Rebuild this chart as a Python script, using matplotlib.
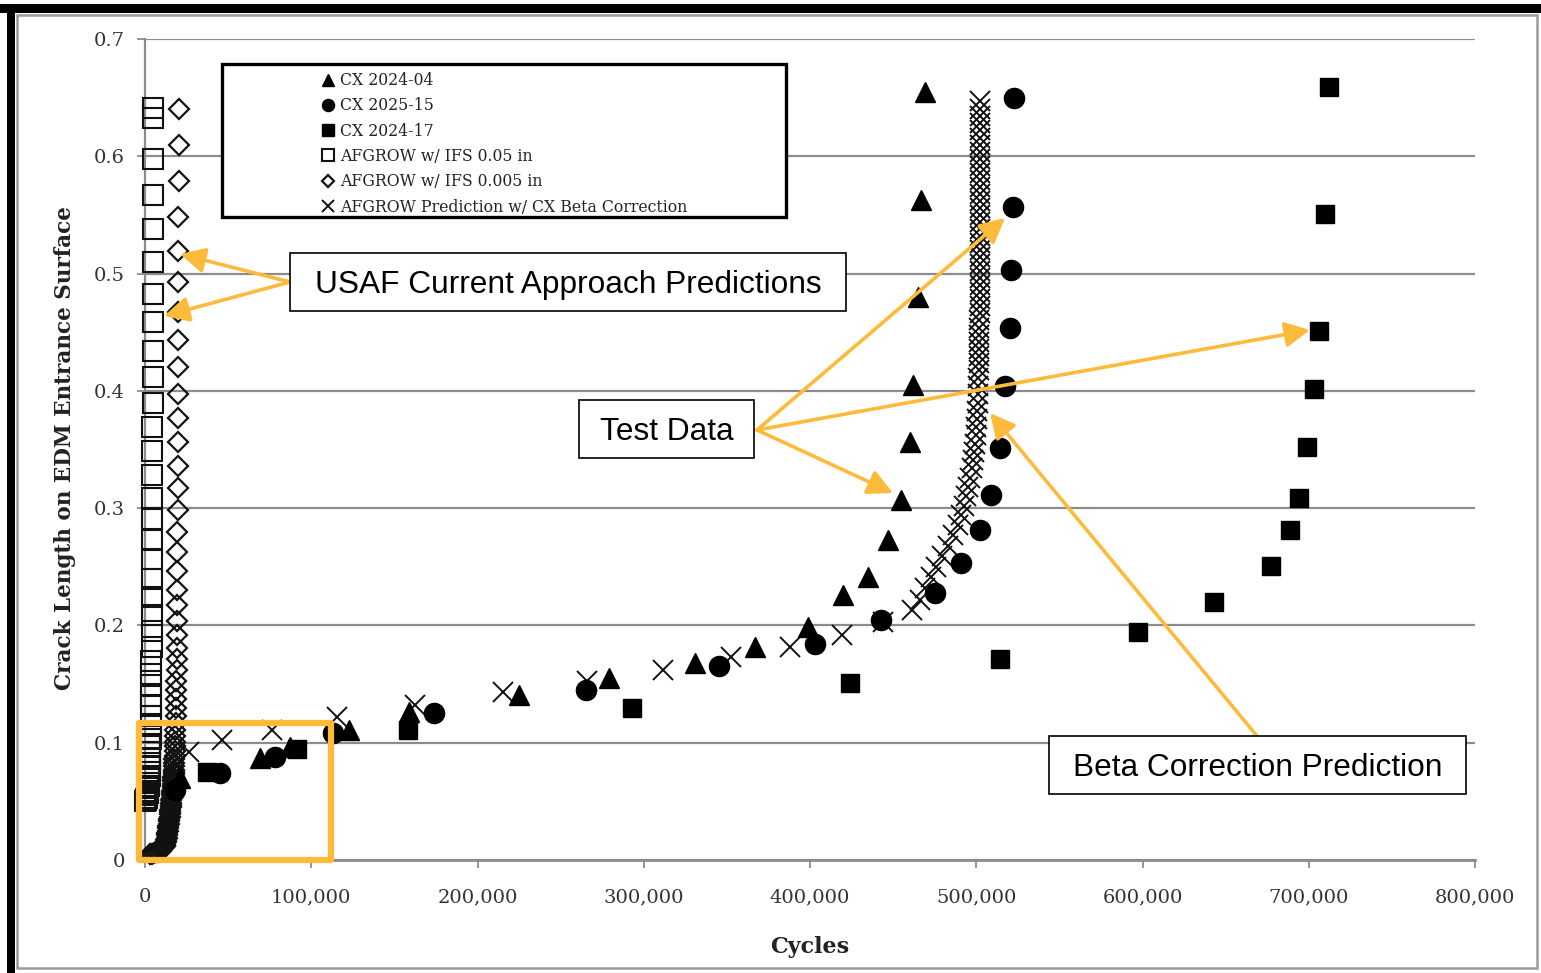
import matplotlib
matplotlib.use('Agg')
import matplotlib.pyplot as plt
from matplotlib.patches import Rectangle, FancyArrowPatch
from matplotlib.ticker import FuncFormatter

# ---------------- data ----------------
# CX 2024-04 (filled triangles)
cx0404_x = [21000, 69000, 87000, 123000, 159000, 225000, 279000, 331000, 367000,
            399000, 420000, 435000, 447000, 455000, 460000, 462000, 465000, 467000, 469000]
cx0404_y = [0.070, 0.087, 0.096, 0.111, 0.126, 0.141, 0.155, 0.168, 0.182,
            0.199, 0.226, 0.241, 0.273, 0.307, 0.356, 0.405, 0.480, 0.563, 0.655]

# CX 2025-15 (filled circles)
cx2515_x = [18000, 45000, 78000, 113000, 174000, 265000, 345000, 403000, 443000,
            475000, 491000, 502000, 509000, 514000, 517000, 520000, 521000, 522000, 523000]
cx2515_y = [0.060, 0.074, 0.088, 0.108, 0.125, 0.145, 0.165, 0.184, 0.205,
            0.228, 0.253, 0.281, 0.311, 0.351, 0.404, 0.454, 0.503, 0.557, 0.650]

# CX 2024-17 (filled squares)
cx2417_x = [37300, 91400, 158000, 293000, 424000, 514000, 597000, 643000, 677000,
            689000, 694000, 699000, 703000, 706000, 710000, 712000]
cx2417_y = [0.075, 0.095, 0.111, 0.130, 0.151, 0.171, 0.194, 0.220, 0.251,
            0.281, 0.309, 0.352, 0.402, 0.451, 0.551, 0.659]

# AFGROW w/ IFS 0.05 in (hollow squares)
ifs05_y = [0.050, 0.051, 0.052, 0.053, 0.055, 0.057, 0.059, 0.061, 0.063, 0.066,
           0.069, 0.072, 0.075, 0.079, 0.083, 0.087, 0.092, 0.097, 0.103, 0.109,
           0.116, 0.123, 0.131, 0.140, 0.149, 0.159, 0.170, 0.182, 0.195, 0.209,
           0.224, 0.240, 0.257, 0.273, 0.291, 0.309, 0.328, 0.349, 0.369, 0.390,
           0.412, 0.434, 0.459, 0.483, 0.510, 0.538, 0.567, 0.598, 0.633, 0.641]
ifs05_x = [0, 400, 800, 1100, 1400, 1700, 1900, 2100, 2300, 2450,
           2600, 2750, 2850, 2950, 3050, 3150, 3250, 3300, 3400, 3450,
           3550, 3600, 3700, 3750, 3800, 3850, 3900, 3950, 4000, 4050,
           4100, 4150, 4200, 4250, 4300, 4350, 4400, 4450, 4500, 4550,
           4600, 4650, 4700, 4700, 4750, 4800, 4800, 4850, 4900, 4900]

# AFGROW w/ IFS 0.005 in (hollow diamonds)
ifs005_y = [0.005, 0.0055, 0.006, 0.0065, 0.007, 0.0075, 0.008, 0.009, 0.010, 0.011,
            0.012, 0.013,
            0.015, 0.017, 0.019, 0.021, 0.023, 0.025, 0.027, 0.029, 0.031, 0.033,
            0.035, 0.037, 0.039, 0.041, 0.043, 0.045, 0.047, 0.049, 0.051, 0.053,
            0.055, 0.057, 0.059, 0.061, 0.063, 0.065, 0.067, 0.069, 0.071, 0.073,
            0.075, 0.077,
            0.080, 0.083, 0.086, 0.089, 0.093, 0.097, 0.101, 0.106, 0.111, 0.117,
            0.123, 0.130, 0.137, 0.145, 0.153, 0.162, 0.171, 0.181, 0.192, 0.204,
            0.217, 0.230, 0.246, 0.263, 0.280, 0.298, 0.317, 0.336, 0.356, 0.377,
            0.397, 0.420, 0.443, 0.467, 0.493, 0.519, 0.548, 0.579, 0.610, 0.640]
ifs005_x = [3000, 4200, 5400, 6600, 7800, 8800, 9600, 10300, 10900, 11400,
            11800, 12100,
            12400, 12700, 13000, 13300, 13500, 13700, 13900, 14100, 14300, 14500,
            14700, 14900, 15000, 15200, 15300, 15500, 15600, 15800, 15900, 16000,
            16200, 16300, 16400, 16600, 16700, 16800, 16900, 17000, 17100, 17200,
            17300, 17400,
            17500, 17600, 17700, 17800, 17900, 18000, 18100, 18200, 18300, 18400,
            18500, 18600, 18700, 18800, 18900, 19000, 19000, 19100, 19200, 19200,
            19300, 19400, 19400, 19500, 19500, 19600, 19600, 19700, 19700, 19800,
            19800, 19900, 19900, 20000, 20000, 20100, 20100, 20200, 20200, 20200]

# AFGROW Prediction w/ CX Beta Correction (x markers)
beta_x = [26500, 46300, 76400, 115500, 162400, 215300, 265900, 311600, 352500,
          388000, 419200, 443900, 461400,
          466000, 469200, 472500, 476000, 479500, 483000, 486000, 489000, 491000,
          492500, 494000, 495300, 496400, 497300, 498000, 498600, 499200, 499600,
          500000, 500300, 500600, 500800, 501000, 501200, 501300, 501400, 501500,
          501600, 501700, 501800, 501800, 501900, 501900, 502000, 502000, 502000,
          502100, 502100, 502100, 502100, 502200, 502200, 502200, 502200, 502200,
          502200, 502200, 502300, 502300, 502300, 502300, 502300, 502300, 502300,
          502300, 502300, 502300, 502300, 502300, 502300, 502300, 502300, 502300,
          502300]
beta_y = [0.092, 0.102, 0.111, 0.122, 0.132, 0.143, 0.153, 0.162, 0.173,
          0.182, 0.192, 0.203, 0.213,
          0.222, 0.232, 0.241, 0.250, 0.259, 0.268, 0.277, 0.286, 0.294,
          0.302, 0.310, 0.318, 0.326, 0.334, 0.341, 0.348, 0.355, 0.362,
          0.369, 0.376, 0.383, 0.390, 0.397, 0.404, 0.411, 0.418, 0.424,
          0.430, 0.436, 0.442, 0.448, 0.454, 0.460, 0.466, 0.472, 0.478,
          0.484, 0.490, 0.496, 0.502, 0.508, 0.514, 0.520, 0.526, 0.532,
          0.538, 0.544, 0.550, 0.556, 0.562, 0.568, 0.574, 0.580, 0.586,
          0.592, 0.598, 0.604, 0.610, 0.616, 0.622, 0.628, 0.634, 0.640,
          0.647]

series_labels = ['CX 2024-04', 'CX 2025-15', 'CX 2024-17',
                 'AFGROW w/ IFS 0.05 in', 'AFGROW w/ IFS 0.005 in',
                 'AFGROW Prediction w/ CX Beta Correction']
x_ticks = [0, 100000, 200000, 300000, 400000, 500000, 600000, 700000, 800000]
y_ticks = [0, 0.1, 0.2, 0.3, 0.4, 0.5, 0.6, 0.7]
x_title = 'Cycles'
y_title = 'Crack Length on EDM Entrance Surface'
note_usaf = 'USAF Current Approach Predictions'
note_test = 'Test Data'
note_beta = 'Beta Correction Prediction'

# ---------------- figure ----------------
W, H = 1541, 973
fig = plt.figure(figsize=(W / 100, H / 100), dpi=100)
fig.patch.set_facecolor('white')


def fx(px):
    return px / W


def fy(py):
    return 1 - py / H


AX_L, AX_R, AX_T, AX_B = 145, 1475, 39, 860
ax = fig.add_axes([fx(AX_L), fy(AX_B), fx(AX_R) - fx(AX_L), fy(AX_T) - fy(AX_B)])
ax.set_facecolor('none')

GRID = '#8c8c8c'
INK = '#111111'
ORANGE = '#FDBA3B'

# predictions (hollow)
h_sq, = ax.plot(ifs05_x, ifs05_y, ls='none', marker='s', ms=14, mfc='none',
                mec=INK, mew=1.5, clip_on=False, zorder=3)
h_di, = ax.plot(ifs005_x, ifs005_y, ls='none', marker='D', ms=10.5, mfc='none',
                mec=INK, mew=1.6, clip_on=False, zorder=3)
h_x, = ax.plot(beta_x, beta_y, ls='none', marker='x', ms=14, mec=INK, mew=1.4,
               clip_on=False, zorder=3)
# test data (filled)
h_tri, = ax.plot(cx0404_x, cx0404_y, ls='none', marker='^', ms=15, mfc='black',
                 mec='black', clip_on=False, zorder=4)
h_cir, = ax.plot(cx2515_x, cx2515_y, ls='none', marker='o', ms=14.5, mfc='black',
                 mec='black', clip_on=False, zorder=4)
h_fsq, = ax.plot(cx2417_x, cx2417_y, ls='none', marker='s', ms=13.5, mfc='black',
                 mec='black', clip_on=False, zorder=4)

ax.set_xlim(0, 800000)
ax.set_ylim(0, 0.7)
ax.set_xticks(x_ticks)
ax.set_yticks(y_ticks)
ax.xaxis.set_major_formatter(FuncFormatter(lambda v, p: f'{int(round(v)):,}'))
ax.yaxis.set_major_formatter(FuncFormatter(lambda v, p: '0' if abs(v) < 1e-9 else f'{v:.1f}'))

ax.yaxis.grid(True, color=GRID, lw=1.6)
ax.xaxis.grid(False)
ax.set_axisbelow(True)
for s in ['top', 'right']:
    ax.spines[s].set_visible(False)
ax.spines['left'].set_color(GRID)
ax.spines['left'].set_linewidth(1.6)
ax.spines['bottom'].set_color(GRID)
ax.spines['bottom'].set_linewidth(2.0)

ax.tick_params(axis='both', direction='out', length=5.5, width=1.3, color=GRID,
               labelcolor='#333333')
ax.tick_params(axis='y', pad=9)
ax.tick_params(axis='x', pad=15)
for lab in ax.get_xticklabels() + ax.get_yticklabels():
    lab.set_fontfamily('DejaVu Serif')
    lab.set_fontsize(14)

ax.set_xlabel(x_title, family='DejaVu Serif', fontsize=16, fontweight='bold', color='#222222')
ax.set_ylabel(y_title, family='DejaVu Serif', fontsize=15.5, fontweight='bold', color='#222222')
ax.xaxis.set_label_coords((810 - AX_L) / (AX_R - AX_L), (AX_B - 936) / (AX_B - AX_T))
ax.yaxis.set_label_coords((76 - AX_L) / (AX_R - AX_L), (AX_B - 448) / (AX_B - AX_T))

# ---------------- legend ----------------
legend_box = Rectangle((fx(222), fy(217)), fx(786) - fx(222), fy(64) - fy(217),
                       transform=fig.transFigure, facecolor='white', edgecolor='black',
                       lw=2.4, zorder=1)
fig.add_artist(legend_box)
handles = [h_tri, h_cir, h_fsq, h_sq, h_di, h_x]
leg = fig.legend(handles, series_labels, loc='upper left',
                 bbox_to_anchor=(fx(321), fy(72)), bbox_transform=fig.transFigure,
                 frameon=False, borderpad=0, borderaxespad=0, handlelength=0.9,
                 handletextpad=0.3, labelspacing=0.53, markerscale=0.6,
                 prop=dict(family='DejaVu Serif', size=11.3))
leg.set_zorder(2)
for t in leg.get_texts():
    t.set_color('#222222')

# ---------------- annotations ----------------
def arrow(p0, p1):
    a = FancyArrowPatch((fx(p0[0]), fy(p0[1])), (fx(p1[0]), fy(p1[1])),
                        transform=fig.transFigure,
                        arrowstyle='-|>,head_length=0.75,head_width=0.38',
                        mutation_scale=20, lw=2.6, color=ORANGE,
                        shrinkA=0, shrinkB=0, zorder=5)
    fig.add_artist(a)


def textbox(x0, y0, x1, y1, text):
    r = Rectangle((fx(x0), fy(y1)), fx(x1) - fx(x0), fy(y0) - fy(y1),
                  transform=fig.transFigure, facecolor='white', edgecolor='black',
                  lw=1.2, zorder=6)
    fig.add_artist(r)
    fig.text(fx((x0 + x1) / 2), fy((y0 + y1) / 2 + 2.5), text, ha='center', va='center',
             fontsize=22.8, family='Liberation Sans', color='black', zorder=7)


arrow((290, 282), (180, 254))
arrow((290, 282), (164, 316))
arrow((757, 430), (1005, 218))
arrow((757, 430), (1310, 330))
arrow((757, 430), (893, 493))
arrow((1257, 736), (990, 413))

textbox(290, 253, 846, 311, note_usaf)
textbox(579, 400, 754, 458, note_test)
textbox(1049, 736, 1466, 794, note_beta)

hl = Rectangle((fx(139), fy(860)), fx(331) - fx(139), fy(723) - fy(860),
               transform=fig.transFigure, fill=False, edgecolor=ORANGE, lw=4.5,
               joinstyle='round', zorder=5)
fig.add_artist(hl)

# ---------------- outer frame ----------------
fig.add_artist(Rectangle((0, fy(13)), 1, fy(4) - fy(13), transform=fig.transFigure,
                         facecolor='black', edgecolor='none', zorder=8))
fig.add_artist(Rectangle((fx(7), 0), fx(15) - fx(7), fy(4), transform=fig.transFigure,
                         facecolor='black', edgecolor='none', zorder=8))
fig.add_artist(Rectangle((fx(17), fy(968)), fx(1537) - fx(17), fy(15) - fy(968),
                         transform=fig.transFigure, fill=False, edgecolor='#9a9a9a',
                         lw=1.8, zorder=8))

fig.savefig('out.png', dpi=100, facecolor='white')
